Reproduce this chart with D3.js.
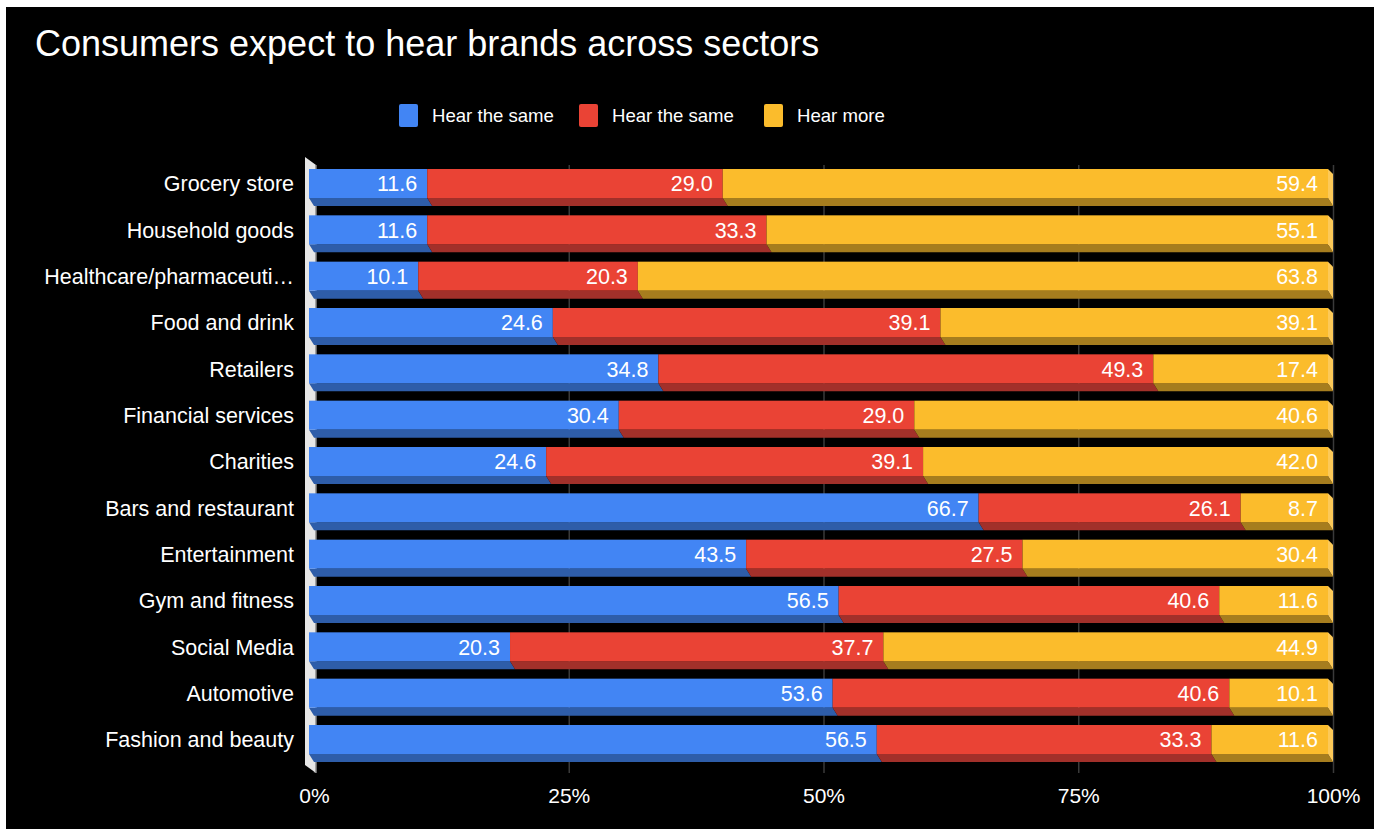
<!DOCTYPE html>
<html>
<head>
<meta charset="utf-8">
<script src="https://cdn.jsdelivr.net/npm/d3@7"></script>
<style>
  html, body { margin: 0; padding: 0; background: #ffffff; }
  svg { display: block; }
  text { font-family: "Liberation Sans", Arial, Helvetica, sans-serif; }
</style>
</head>
<body>
<svg id="chart" width="1374" height="829"></svg>
<script>
// Sector survey: share of respondents per answer (percent)
const categories = [
  "Grocery store", "Household goods", "Healthcare/pharmaceuticals", "Food and drink",
  "Retailers", "Financial services", "Charities", "Bars and restaurant",
  "Entertainment", "Gym and fitness", "Social Media", "Automotive", "Fashion and beauty"
];
const seriesNames = ["Hear the same", "Hear the same", "Hear more"];
const hearSameA = [11.6, 11.6, 10.1, 24.6, 34.8, 30.4, 24.6, 66.7, 43.5, 56.5, 20.3, 53.6, 56.5];
const hearSameB = [29.0, 33.3, 20.3, 39.1, 49.3, 29.0, 39.1, 26.1, 27.5, 40.6, 37.7, 40.6, 33.3];
const hearMore  = [59.4, 55.1, 63.8, 39.1, 17.4, 40.6, 42.0, 8.7, 30.4, 11.6, 44.9, 10.1, 11.6];
const tickValues = [0, 25, 50, 75, 100];
const tickLabels = ["0%", "25%", "50%", "75%", "100%"];

const colors = ["#4285f4", "#ea4335", "#fbbc2c"];
const darkColors = ["#2e5da9", "#a2302a", "#a67d1e"];
const sideColors = ["#6a9ff6", "#ef6c62", "#fcc958"];

const svg = d3.select("#chart");
const W = 1374, H = 829;

// dark canvas with a thin white margin on the top and left
svg.append("rect").attr("x", 6).attr("y", 7).attr("width", W - 6).attr("height", H - 7).attr("fill", "#000");

// extrusion offset of the 3D bars
const DX = 5, DY = 8;

// bars are stacked to 100% of each row's total
const x = d3.scaleLinear().domain([0, 100]).range([309, 1328]);
const y = d3.scaleBand().domain(categories).range([169, 754]).paddingInner(0.374).paddingOuter(0);

const plotTop = 157, plotBottom = 765;

// title
svg.append("text")
  .attr("x", 35).attr("y", 56)
  .attr("fill", "#fff").attr("font-size", 36)
  .text("Consumers expect to hear brands across sectors");

// legend
const legendItems = [
  { name: seriesNames[0], x: 399 },
  { name: seriesNames[1], x: 579 },
  { name: seriesNames[2], x: 764 }
];
const lg = svg.append("g");
legendItems.forEach((d, i) => {
  lg.append("rect").attr("x", d.x).attr("y", 104).attr("width", 19).attr("height", 23)
    .attr("rx", 2).attr("fill", colors[i]);
  lg.append("text").attr("x", d.x + 33).attr("y", 122)
    .attr("fill", "#fff").attr("font-size", 18.6).text(d.name);
});

// back-plane gridlines (shifted by the extrusion)
const grid = svg.append("g")
  .attr("transform", `translate(${DX},${plotBottom + DY})`)
  .call(d3.axisBottom(x).tickValues(tickValues).tickSize(-(plotBottom - plotTop)).tickFormat(""));
grid.select(".domain").remove();
grid.selectAll(".tick line").attr("stroke", "#3a3a3a").attr("stroke-width", 1.5);

// left base wall
svg.append("polygon")
  .attr("points", [
    [x(0) - 4, plotTop], [x(0) + DX + 2, plotTop + DY], [x(0) + DX + 2, plotBottom + DY],
    [x(0) - 4, plotBottom]
  ].map(p => p.join(",")).join(" "))
  .attr("fill", "#e6e6e6");
svg.append("line")
  .attr("x1", x(0) + DX + 2).attr("x2", x(0) + DX + 2)
  .attr("y1", plotTop + DY).attr("y2", plotBottom + DY)
  .attr("stroke", "#8a8a8a").attr("stroke-width", 1.5);

// stacked data, normalised per row
const rows = categories.map((c, i) => ({ cat: c, vals: [hearSameA[i], hearSameB[i], hearMore[i]] }));
const bh = y.bandwidth();

const bars = svg.append("g");
rows.forEach(r => {
  const y0 = y(r.cat);
  const total = d3.sum(r.vals);
  let acc = 0;
  const segs = r.vals.map((v, k) => {
    const s = { k, v, a: acc / total * 100, b: (acc + v) / total * 100 };
    acc += v;
    return s;
  });
  const g = bars.append("g");
  // bottom faces
  segs.forEach(s => {
    const xa = x(s.a), xb = x(s.b);
    g.append("polygon")
      .attr("points", [[xa, y0 + bh], [xb, y0 + bh], [xb + DX, y0 + bh + DY], [xa + DX, y0 + bh + DY]]
        .map(p => p.join(",")).join(" "))
      .attr("fill", darkColors[s.k]);
  });
  // right side face of the last segment
  const last = segs[segs.length - 1];
  const xe = x(last.b);
  g.append("polygon")
    .attr("points", [[xe, y0], [xe + DX, y0 + DX], [xe + DX, y0 + bh + DY], [xe, y0 + bh]]
      .map(p => p.join(",")).join(" "))
    .attr("fill", sideColors[last.k]);
  // front faces
  segs.forEach(s => {
    g.append("rect")
      .attr("x", x(s.a)).attr("y", y0)
      .attr("width", x(s.b) - x(s.a)).attr("height", bh)
      .attr("fill", colors[s.k]);
  });
  // value labels
  segs.forEach(s => {
    g.append("text")
      .attr("x", x(s.b) - 10).attr("y", y0 + bh / 2)
      .attr("dy", "0.36em").attr("text-anchor", "end")
      .attr("fill", "#fff").attr("font-size", 21.5)
      .text(s.v.toFixed(1));
  });
});

// category labels
const maxLabelW = 252;
svg.append("g").selectAll("text").data(categories).join("text")
  .attr("x", 294).attr("y", d => y(d) + bh / 2)
  .attr("dy", "0.36em").attr("text-anchor", "end")
  .attr("fill", "#fff").attr("font-size", 21.5)
  .text(d => d)
  .each(function(d) {
    const t = d3.select(this);
    if (this.getComputedTextLength() > maxLabelW) {
      let s = d;
      while (s.length > 1 && this.getComputedTextLength() > maxLabelW) {
        s = s.slice(0, -1);
        t.text(s + "…");
      }
    }
  });

// percentage axis labels
const ax = svg.append("g")
  .attr("transform", `translate(${DX},${plotBottom + DY})`)
  .call(d3.axisBottom(x).tickValues(tickValues).tickSize(0).tickPadding(0)
    .tickFormat((d, i) => tickLabels[i]));
ax.select(".domain").remove();
ax.selectAll(".tick text")
  .attr("y", 30).attr("dy", 0)
  .attr("fill", "#fff").attr("font-size", 21)
  .attr("font-family", "'Liberation Sans', Arial, sans-serif");
</script>
</body>
</html>
